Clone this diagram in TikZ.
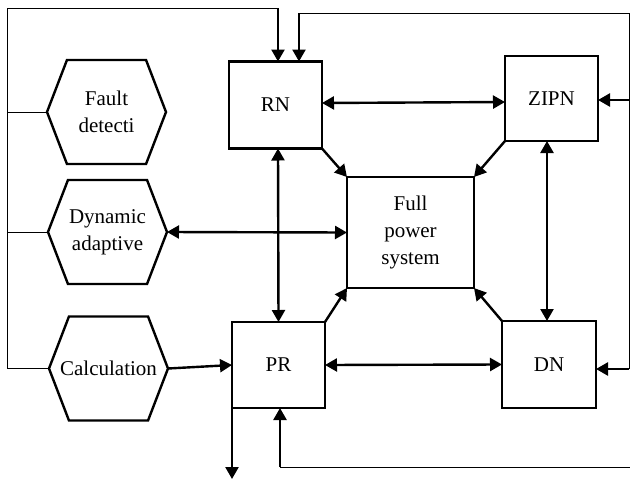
\documentclass[tikz,border=0pt]{standalone}
\usepackage{fontspec}
\setmainfont{Liberation Serif}
\usetikzlibrary{arrows.meta, shapes.symbols, calc}

\begin{document}
\begin{tikzpicture}[
  x=1pt, y=-1pt,
  font=\fontsize{21}{27}\selectfont,
  block/.style={draw, line width=2.4pt, minimum width=#1, inner sep=0pt, outer sep=0pt, align=center},
  hexa/.style={draw, line width=2.4pt, shape=signal, signal to=east and west, signal pointer angle=138,
    minimum width=119pt, minimum height=104pt, inner sep=0pt, outer sep=0pt, align=center},
  link/.style={line width=2.4pt},
  wire/.style={line width=1pt},
  >={Triangle[length=12pt, width=13pt]}]
\useasboundingbox (0,0) rectangle (630,480);
% blocks
\node[block=93pt, minimum height=87pt] (rn) at (275.5,105) {RN};
\node[block=93pt, minimum height=85pt] (zipn) at (551.5,98.5) {ZIPN};
\node[block=127pt, minimum height=111pt] (full) at (410.5,232.5) {Full\\power\\system};
\node[block=93pt, minimum height=86pt] (pr) at (278.5,365) {PR};
\node[block=94pt, minimum height=87pt] (dn) at (549,364.5) {DN};
% hexagons
\node[hexa] (fault) at (106.5,112) {Fault\\detecti};
\node[hexa] (dyn) at (107.5,232) {Dynamic\\adaptive};
\node[hexa, inner xsep=-10pt] (calc) at (108.5,368.5) {Calculation};
% loop corners and entry points
\coordinate (lt) at (7,8);
\coordinate (rt) at (629,13);
\coordinate (rb) at (629,369);
\coordinate (bt) at (630,467);
\coordinate (out) at (232,479);
\coordinate (rnin1) at ([xshift=2.5pt]rn.north);
\coordinate (rnin2) at ([xshift=23.5pt]rn.north);
\coordinate (zipnin) at ([yshift=-1.5pt]zipn.east);
\coordinate (prin) at ([xshift=1.5pt]pr.south);
% left feedback
\draw[wire] (calc.west) -| (lt) -- (lt -| rnin1);
\draw[link, ->] (lt -| rnin1) -- (rnin1);
\draw[wire] (fault.west) -- (fault.west -| lt);
\draw[wire] (dyn.west) -- (dyn.west -| lt);
% right feedback
\draw[wire] (rb) -- (rt) -- (rt -| rnin2);
\draw[link, ->] (rt -| rnin2) -- (rnin2);
\draw[link, ->] (rb |- zipnin) -- (zipnin);
\draw[link, ->] (rb) -- (rb -| dn.east);
% bottom feedback
\draw[wire] (bt) -- (bt -| prin);
\draw[link, ->] (bt -| prin) -- (prin);
\draw[link, ->] (pr.south west) -- (out);
% links between blocks
\draw[link, <->] ([yshift=2pt]rn.east) -- ([yshift=-3.5pt]zipn.west);
\draw[link, <->] (rnin1 |- rn.south) -- (pr.north);
\draw[link, <->] ([xshift=-4.5pt]zipn.south) -- ([xshift=-2pt]dn.north);
\draw[link, <->] (pr.east) -- (dn.west);
\draw[link, <->] (dyn.east) -- (full.west);
\draw[link, ->] (calc.east) -- (pr.west);
\draw[link, ->] (rn.south east) -- (full.north west);
\draw[link, ->] (zipn.south west) -- (full.north east);
\draw[link, ->] (pr.north east) -- (full.south west);
\draw[link, ->] (dn.north west) -- (full.south east);
\end{tikzpicture}
\end{document}
